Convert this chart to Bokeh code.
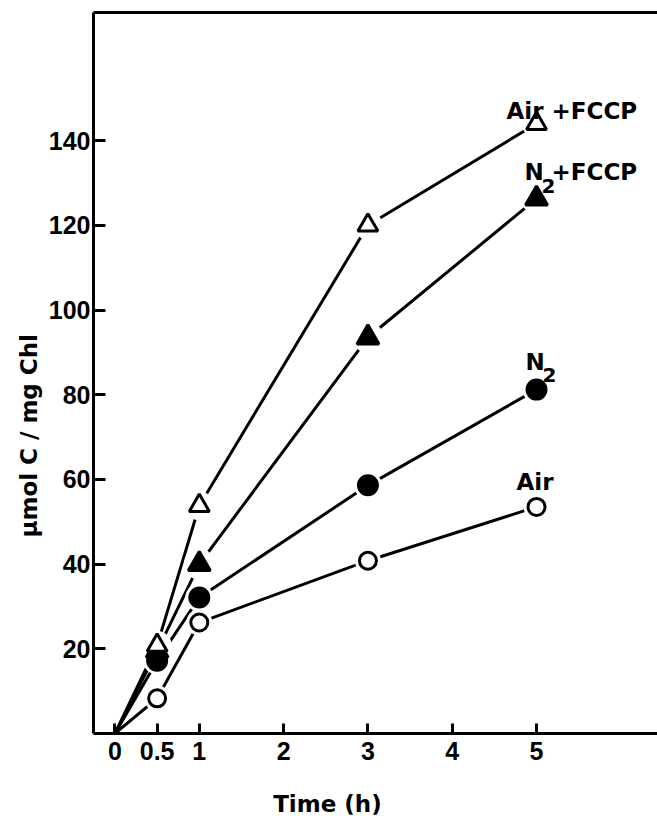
import math
from bokeh.plotting import figure
from bokeh.models import LinearAxis, FixedTicker, Label, Range1d, ColumnDataSource, Title
from bokeh.embed import file_html
from bokeh.resources import INLINE

# ---- data ----
times = [0, 0.5, 1, 3, 5]
air = [0, 8.3, 26.2, 40.8, 53.5]
n2 = [0, 17.2, 32.1, 58.6, 81.2]
n2_fccp = [0, 19.5, 40.0, 93.5, 126.3]
air_fccp = [0, 20.8, 53.8, 120.0, 144.0]

x_ticks = [0, 0.5, 1, 2, 3, 4, 5]
x_tick_labels = ["0", "0.5", "1", "2", "3", "4", "5"]
y_ticks = [20, 40, 60, 80, 100, 120, 140]

LABEL_FONT = "DejaVu Sans"
TICK_FONT = "Liberation Sans"

p = figure(width=657, height=827, output_backend="svg", toolbar_location=None,
           x_range=Range1d(-0.255, 6.435), y_range=Range1d(0, 170.25),
           min_border_left=93, min_border_right=0, min_border_top=12,
           min_border_bottom=94, x_axis_type=None, y_axis_type=None)
p.outline_line_color = None
p.xgrid.visible = False
p.ygrid.visible = False
p.background_fill_color = "white"
p.border_fill_color = "white"


def style_axis(ax):
    ax.axis_line_width = 3
    ax.axis_line_color = "black"
    ax.major_tick_line_width = 3
    ax.major_tick_line_color = "black"
    ax.minor_tick_line_color = None
    ax.major_tick_out = 0
    ax.major_label_text_font = TICK_FONT
    ax.major_label_text_font_style = "bold"
    ax.major_label_text_font_size = "25px"
    ax.major_label_text_color = "black"


# the title sits left of the frame centre in the original; trailing no-break
# spaces shift the centred axis label to the left
xaxis = LinearAxis(ticker=FixedTicker(ticks=x_ticks),
                   major_label_overrides={t: s for t, s in zip(x_ticks, x_tick_labels)},
                   axis_label="Time  (h)" + "\u00a0" * 11)
style_axis(xaxis)
xaxis.major_tick_in = 10
xaxis.major_label_standoff = 8
xaxis.axis_label_standoff = 28
xaxis.axis_label_text_font = LABEL_FONT
xaxis.axis_label_text_font_style = "bold"
xaxis.axis_label_text_font_size = "23px"
xaxis.axis_label_text_color = "black"
p.add_layout(xaxis, "below")

yaxis = LinearAxis(ticker=FixedTicker(ticks=y_ticks))
style_axis(yaxis)
yaxis.major_tick_in = 12
yaxis.major_label_standoff = 3
p.add_layout(yaxis, "left")

top = LinearAxis(ticker=FixedTicker(ticks=[]))
top.axis_line_width = 3
top.major_tick_line_color = None
top.minor_tick_line_color = None
top.major_tick_out = 0
top.major_tick_in = 0
top.major_label_standoff = 0
top.major_label_text_font_size = "0px"
p.add_layout(top, "above")

ytitle = Title(text="\u00b5mol C / mg Chl", align="left", offset=196, standoff=8,
               text_font=LABEL_FONT, text_font_style="bold", text_font_size="23px",
               text_color="black")
p.add_layout(ytitle, "left")

series = [
    (air, "circle", "white", 17),
    (n2, "circle", "black", 19),
    (n2_fccp, "triangle", "black", 22),
    (air_fccp, "triangle", "white", 20),
]

for ys, _, _, _ in series:
    p.line(times, ys, line_color="black", line_width=3)

for ys, marker, fill, size in series:
    src = ColumnDataSource(dict(x=times[1:], y=ys[1:]))
    p.scatter("x", "y", source=src, marker="circle", size=size + 9,
              fill_color="white", line_color=None)

for ys, marker, fill, size in series:
    src = ColumnDataSource(dict(x=times[1:], y=ys[1:]))
    p.scatter("x", "y", source=src, marker=marker, size=size,
              fill_color=fill, line_color="black", line_width=3)


def lab(text, x, y, dx, dy, size="23px"):
    p.add_layout(Label(x=x, y=y, x_offset=dx, y_offset=dy, text=text,
                       text_font=LABEL_FONT, text_font_style="bold", text_font_size=size,
                       text_color="black", text_align="left", text_baseline="alphabetic"))


t_last = times[-1]
lab("Air +FCCP", t_last, air_fccp[-1], -30, 13)
lab("N", t_last, n2_fccp[-1], -12, 27)
lab("2", t_last, n2_fccp[-1], 5, 13, size="20px")
lab("+FCCP", t_last, n2_fccp[-1], 15, 27)
lab("N", t_last, n2[-1], -11, 28)
lab("2", t_last, n2[-1], 6, 15, size="20px")
lab("Air", t_last, air[-1], -20, 25)

open("out.html", "w").write(file_html(p, INLINE))
